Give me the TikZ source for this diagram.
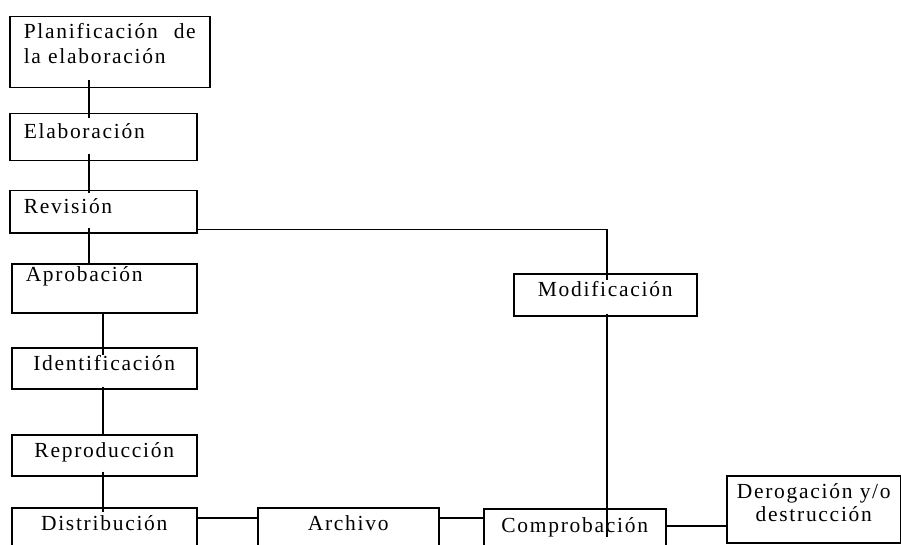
\documentclass[tikz,border=0pt]{standalone}
\usepackage{fontspec}
\setmainfont{Liberation Serif}
\usepackage{tikz}
\usetikzlibrary{positioning}

\begin{document}
\begin{tikzpicture}[x=1pt, y=1pt]
    \tikzstyle{block} = [rectangle, draw, line width=1.5pt, anchor=north west, inner ysep=0pt, inner xsep=14pt, font=\fontsize{21.5}{25}\selectfont\addfontfeature{LetterSpace=8}]
    \tikzstyle{leftblock} = [block, align=left]
    \tikzstyle{line} = [line width=1.5pt]

    \useasboundingbox (0,0) rectangle (901,-545);
    \clip (0,0) rectangle (901,-545);

    \node [leftblock, text width=172pt, text height=22pt, text depth=49pt] (plan) at (9,-16) {Planificación\hfill de\\la elaboración};
    \node [leftblock, text width=159pt, text height=25pt, text depth=22pt] (elab) at (9,-113) {Elaboración};
    \node [leftblock, text width=159pt, text height=23pt, text depth=19pt] (rev) at (9,-190) {Revisión};
    \node [leftblock, text width=157pt, text height=18pt, text depth=31pt] (aprob) at (11,-263) {Aprobación};
    \node [block, minimum width=185pt, text height=23pt, text depth=18pt] (ident) at (11,-347) {Identificación};
    \node [block, minimum width=185pt, text height=23pt, text depth=18pt] (repro) at (11,-434) {Reproducción};
    \node [block, minimum width=185pt, text height=23pt, text depth=45pt] (distr) at (11,-507) {Distribución};
    \node [block, minimum width=181pt, text height=23pt, text depth=45pt] (archivo) at (257,-507) {Archivo};
    \node [block, minimum width=182pt, text height=24pt, text depth=45pt] (comprob) at (483,-508) {Comprobación};
    \node [block, minimum width=183pt, text height=23pt, text depth=19pt] (modif) at (513,-273) {Modificación};
    \node [block, inner xsep=4pt, text width=166pt, align=center, text height=23pt, text depth=44pt, font=\fontsize{21.5}{23}\selectfont\addfontfeature{LetterSpace=8}] (derog) at (726,-475) {Derogación y/o\\destrucción};

    \draw [line] ([xshift=-21pt,yshift=8pt]plan.south) -- ([xshift=-14.5pt,yshift=-5pt]elab.north);
    \draw [line] ([xshift=-14.5pt,yshift=7pt]elab.south) -- ([xshift=-14.5pt,yshift=-3pt]rev.north);
    \draw [line] ([xshift=-14.5pt,yshift=5pt]rev.south) -- ([xshift=-15.5pt]aprob.north);
    \draw [line] ([xshift=-1.5pt]aprob.south) -- ([xshift=-1.5pt,yshift=-8pt]ident.north);
    \draw [line] ([xshift=-1.5pt,yshift=3pt]ident.south) -- ([xshift=-1.5pt]repro.north);
    \draw [line] ([xshift=-1.5pt,yshift=5pt]repro.south) -- ([xshift=-1.5pt,yshift=-5pt]distr.north);
    \draw [line] ([yshift=4pt]rev.south east) -| ([xshift=1.5pt,yshift=-7pt]modif.north);
    \draw [line] ([xshift=1.5pt,yshift=3pt]modif.south) -- ([xshift=32pt,yshift=-29pt]comprob.north);
    \draw [line] ([yshift=-11pt]distr.north east) -- ([yshift=-11pt]archivo.north west);
    \draw [line] ([yshift=-11pt]archivo.north east) -- ([yshift=-10pt]comprob.north west);
    \draw [line] ([yshift=-18pt]comprob.north east) -- ([yshift=-51pt]derog.north west);
\end{tikzpicture}
\end{document}
